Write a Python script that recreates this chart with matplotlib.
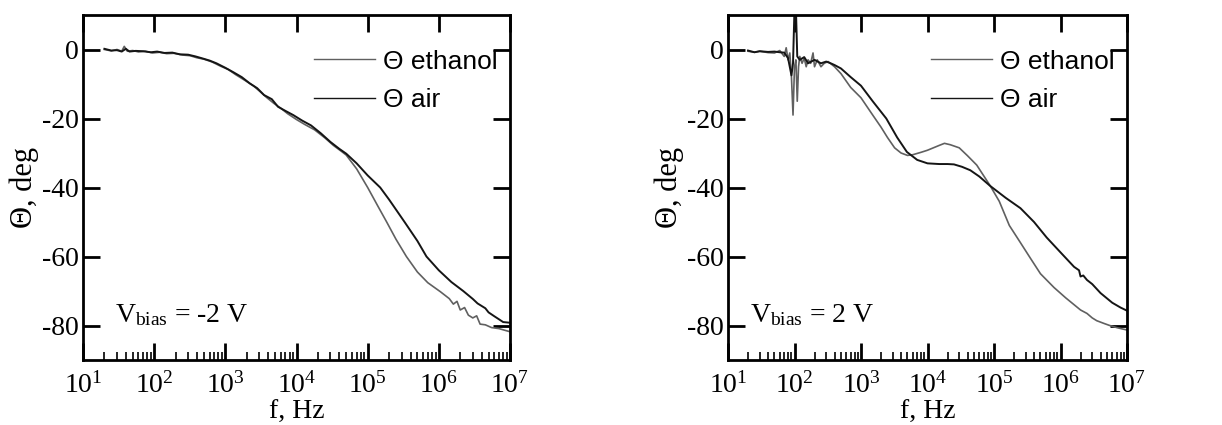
import matplotlib
matplotlib.use("Agg")
import matplotlib.pyplot as plt
from matplotlib.ticker import LogLocator, NullFormatter, FixedLocator

plt.rcParams['font.family'] = ['Liberation Serif', 'DejaVu Serif']
plt.rcParams['mathtext.fontset'] = 'custom'
plt.rcParams['mathtext.rm'] = 'Liberation Serif'
plt.rcParams['mathtext.it'] = 'Liberation Serif:italic'
plt.rcParams['mathtext.bf'] = 'Liberation Serif:bold'
plt.rcParams['axes.unicode_minus'] = False

# ---------------- data: left panel (V_bias = -2 V) ----------------
left_air_f = [20, 25, 30, 35, 40, 45, 55, 70, 90, 110, 140, 180, 230, 300, 380, 480, 600,
              750, 1000, 1300, 1700, 2200, 2800, 3500, 4500, 5500, 7000, 9000, 1.2e4, 1.6e4,
              2.2e4, 3e4, 4e4, 5e4, 7e4, 1e5, 1.5e5, 2e5, 3.3e5, 5e5, 6.7e5, 1e6, 1.5e6,
              2.2e6, 3e6, 3.5e6, 4.5e6, 5e6, 6e6, 7e6, 8e6, 1e7]
left_air_th = [0.2, -0.3, -0.2, -0.6, 0.2, -0.6, -0.4, -0.5, -0.8, -0.6, -1.0, -0.9, -1.4,
               -1.5, -2.0, -2.6, -3.2, -4.0, -5.3, -6.6, -8.0, -9.8, -11.2, -13.2, -14.4,
               -16.6, -17.8, -19.0, -20.6, -22.0, -24.3, -26.8, -28.8, -30.2, -33.0, -36.5,
               -40.0, -43.5, -50.0, -55.5, -60.0, -64.0, -67.4, -70.0, -72.3, -73.6, -75.0,
               -76.2, -77.3, -78.2, -79.0, -79.2]

left_eth_f = [20, 25, 30, 35, 38, 42, 50, 60, 75, 95, 120, 150, 190, 250, 320, 400, 500,
              650, 850, 1100, 1400, 1900, 2500, 3000, 3800, 4800, 6000, 7500, 1e4, 1.3e4,
              1.8e4, 2.5e4, 3.3e4, 4.2e4, 5e4, 7e4, 1e5, 1.4e5, 1.85e5, 2.5e5, 3.5e5, 5e5,
              7e5, 1.05e6, 1.4e6, 1.6e6, 1.8e6, 2e6, 2.3e6, 2.6e6, 3e6, 3.4e6, 3.8e6, 4.5e6,
              5.5e6, 7e6, 8.5e6, 1e7]
left_eth_th = [0.0, -0.4, 0.0, -0.5, 0.9, -0.5, -0.3, -0.7, -0.5, -1.0, -0.8, -1.2, -1.1,
               -1.6, -1.8, -2.4, -2.8, -3.6, -4.8, -5.8, -7.3, -9.0, -10.6, -12.0, -13.9,
               -15.6, -17.0, -18.6, -20.3, -21.7, -23.3, -25.6, -27.8, -29.4, -30.6, -34.6,
               -40.0, -45.5, -50.0, -55.0, -60.0, -64.5, -67.6, -70.2, -72.2, -73.8, -73.0,
               -75.5, -74.8, -77.0, -77.8, -77.2, -79.6, -79.8, -80.6, -80.9, -81.4, -81.8]

# ---------------- data: right panel (V_bias = 2 V) ----------------
right_air_f = [20, 25, 30, 40, 50, 60, 70, 80, 90, 95, 100, 105, 110, 120, 140, 160, 200,
               250, 300, 350, 400, 500, 700, 1000, 1500, 2400, 3500, 4900, 7000, 1e4, 1.5e4,
               2e4, 2.5e4, 3.3e4, 4.4e4, 6e4, 8.7e4, 1.5e5, 2.5e5, 4e5, 6.2e5, 1e6, 1.6e6,
               1.9e6, 2.0e6, 2.2e6, 2.5e6, 3e6, 4e6, 6e6, 8e6, 1e7]
right_air_th = [-0.3, -0.8, -0.5, -0.7, -0.6, -0.8, -0.9, -2.5, -7.5, -4.0, 12.0, 12.0,
                -2.0, -3.0, -2.2, -4.0, -3.0, -4.0, -3.5, -4.0, -4.5, -5.5, -8.0, -10.5,
                -15.0, -20.0, -25.5, -29.7, -32.0, -33.0, -33.2, -33.2, -33.3, -34.0,
                -35.0, -36.8, -39.5, -43.0, -46.0, -50.0, -54.5, -58.8, -63.0, -64.0,
                -65.8, -65.5, -66.8, -68.0, -70.6, -73.4, -74.8, -75.7]

right_eth_f = [20, 25, 30, 40, 50, 60, 70, 75, 80, 85, 90, 95, 100, 105, 110, 115, 120, 130,
               140, 150, 160, 175, 190, 200, 220, 250, 280, 320, 400, 500, 700, 1000, 1500,
               2000, 2500, 3200, 4000, 5000, 6000, 8000, 1e4, 1.5e4, 1.8e4, 2.2e4, 3e4,
               4e4, 5.5e4, 8.7e4, 1.2e5, 1.7e5, 2.5e5, 3.5e5, 5e5, 8e5, 1.2e6, 2e6, 2.5e6,
               3e6, 3.5e6, 4.5e6, 5.5e6, 7e6, 8.5e6, 1e7]
right_eth_th = [-0.5, -0.8, -0.5, -0.9, -1.0, -0.3, -2.0, 0.5, -3.0, -1.0, -8.0, -19.0,
                -5.0, -3.0, -15.0, -5.0, -2.0, -4.0, -2.5, -5.0, -3.0, -4.0, -1.0, -5.0,
                -3.0, -5.0, -4.0, -3.5, -5.0, -7.0, -11.0, -14.0, -19.0, -22.5, -25.5,
                -28.5, -30.0, -30.7, -30.5, -29.8, -29.2, -27.8, -27.2, -27.6, -28.5,
                -30.8, -33.5, -39.4, -44.0, -51.0, -56.0, -60.4, -65.0, -69.0, -72.0,
                -75.5, -76.5, -77.8, -78.6, -79.4, -80.0, -80.6, -81.0, -81.3]

x_ticks = [1e1, 1e2, 1e3, 1e4, 1e5, 1e6, 1e7]
y_ticks = [0, -20, -40, -60, -80]
legend_labels = ['Θ ethanol', 'Θ air']
bias_labels = [r'V$_{\mathrm{bias}}$ = -2 V', r'V$_{\mathrm{bias}}$ = 2 V']

W, H = 1222, 425
fig = plt.figure(figsize=(W / 100, H / 100), dpi=100)
ax1 = fig.add_axes([83 / W, 65 / H, 427 / W, 345 / H])
ax2 = fig.add_axes([728 / W, 65 / H, 399 / W, 345 / H])

panels = [
    (ax1, left_eth_f, left_eth_th, left_air_f, left_air_th, bias_labels[0], 0.075),
    (ax2, right_eth_f, right_eth_th, right_air_f, right_air_th, bias_labels[1], 0.055),
]

for ax, ef, et, af, at, blabel, bx in panels:
    l1, = ax.plot(ef, et, color='#606060', lw=1.2)
    l2, = ax.plot(af, at, color='#151515', lw=1.4)
    ax.set_xscale('log')
    ax.set_xlim(1e1, 1e7)
    ax.set_ylim(-90, 10)
    ax.xaxis.set_major_locator(FixedLocator(x_ticks))
    ax.xaxis.set_minor_locator(LogLocator(base=10, subs=range(2, 10), numticks=20))
    ax.xaxis.set_minor_formatter(NullFormatter())
    ax.set_yticks(y_ticks)
    for s in ax.spines.values():
        s.set_linewidth(2.0)
    ax.tick_params(axis='both', which='major', direction='in', length=12, width=2,
                   labelsize=20, top=True, right=True)
    ax.tick_params(axis='x', which='minor', direction='in', length=6, width=1.2,
                   top=False, bottom=True)
    ax.tick_params(axis='x', which='major', pad=9)
    ax.tick_params(axis='y', which='major', pad=3)
    ax.set_xlabel('f, Hz', fontsize=20)
    ax.xaxis.set_label_coords(0.5, -0.115)
    ax.set_ylabel('Θ, deg', fontsize=22, labelpad=2)
    ax.text(bx, 0.11, blabel, transform=ax.transAxes, fontsize=20, ha='left', va='baseline')
    leg = ax.legend([l1, l2], legend_labels, loc='upper right', frameon=False,
                    prop={'family': 'Liberation Sans', 'size': 19}, handlelength=2.3,
                    handletextpad=0.3, labelspacing=0.55, borderaxespad=0.0,
                    bbox_to_anchor=(0.995, 0.93))
    for lh in leg.get_lines():
        lh.set_linewidth(1.0)

fig.savefig('out.png', dpi=100)
